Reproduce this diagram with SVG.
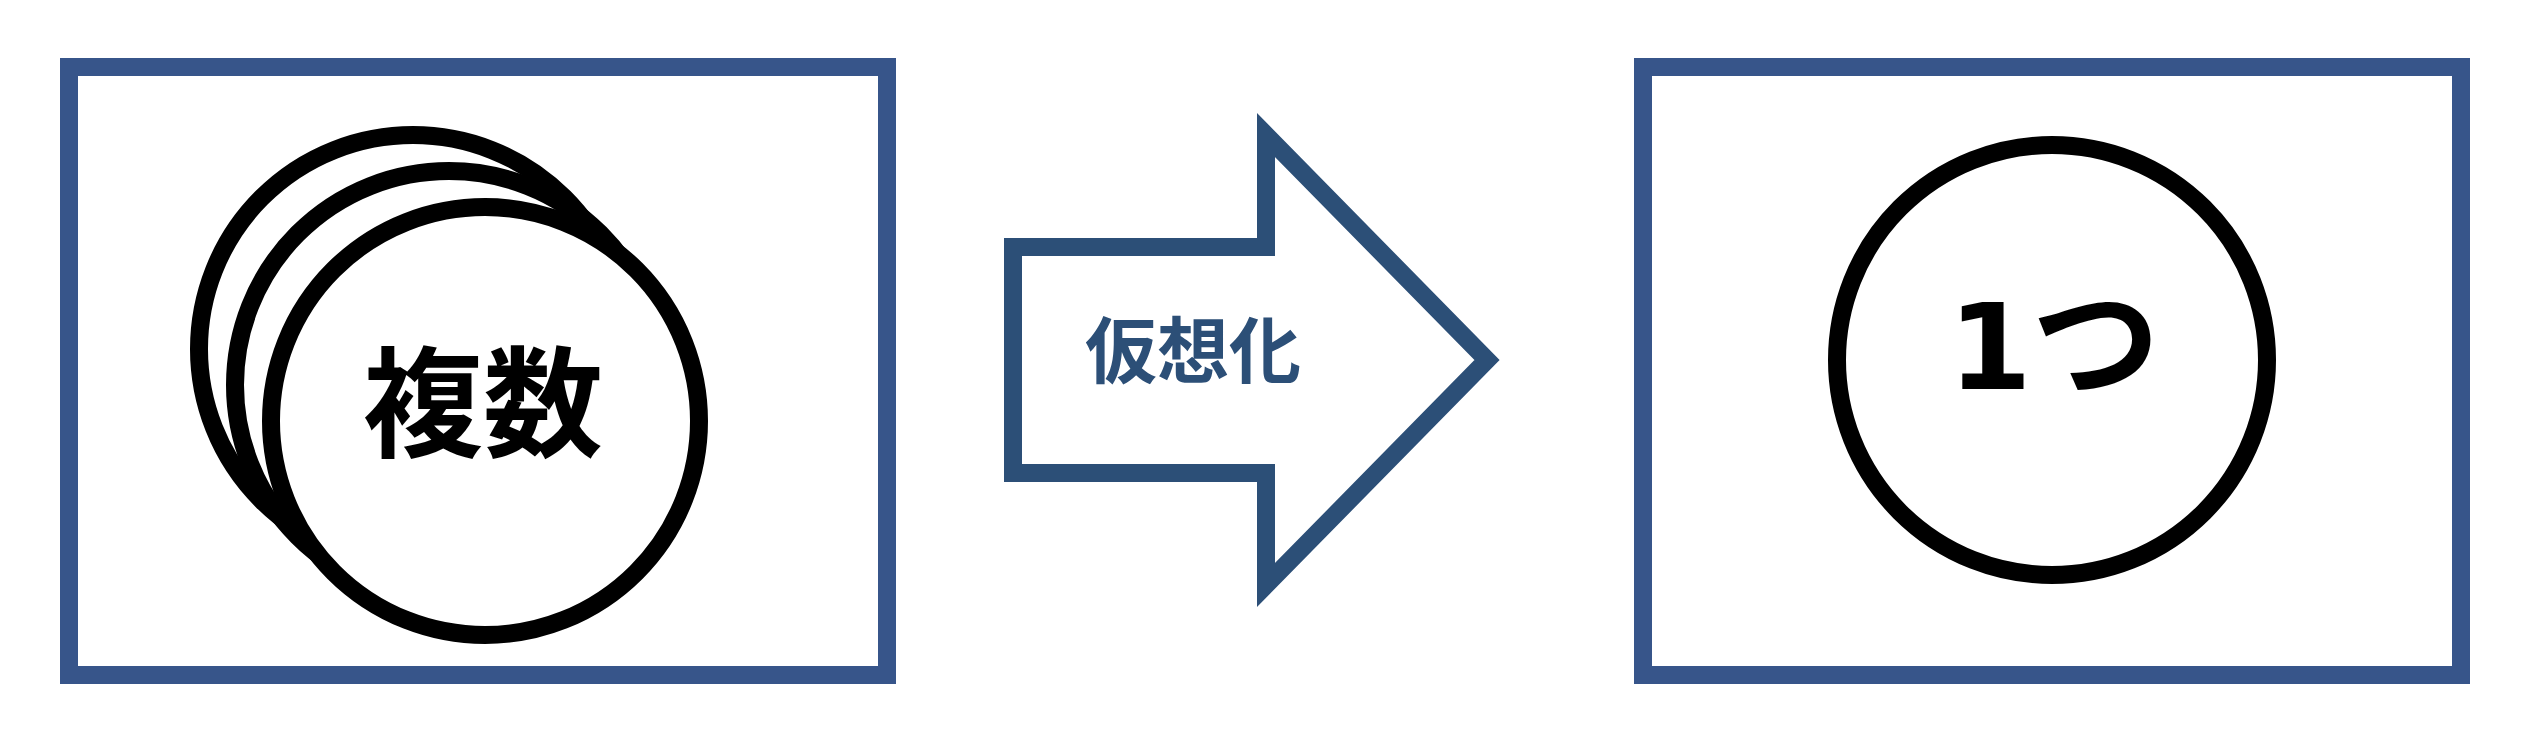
<svg xmlns="http://www.w3.org/2000/svg" width="2544" height="756" viewBox="0 0 2544 756">
  <style>
    .frame { fill: #ffffff; stroke: #37558A; stroke-width: 18; }
    .coin { fill: #ffffff; stroke: #000000; stroke-width: 18; }
    .arrow { fill: #ffffff; stroke: #2C4F77; stroke-width: 18; stroke-linejoin: miter; stroke-miterlimit: 10; }
    .lbl { font-family: "Noto Sans CJK JP", "Noto Sans", sans-serif; font-weight: bold; text-anchor: middle; }
    .lbl2 { font-family: "DejaVu Sans", "Noto Sans CJK JP", sans-serif; font-weight: bold; text-anchor: middle; }
  </style>
  <rect x="0" y="0" width="2544" height="756" fill="#ffffff"/>

  <g id="left-box">
    <rect class="frame" x="69" y="67" width="818" height="608"/>
    <circle class="coin" cx="413" cy="349" r="214"/>
    <circle class="coin" cx="449" cy="385" r="214"/>
    <circle class="coin" cx="485" cy="421" r="214"/>
    <text class="lbl" x="483" y="448" font-size="120" fill="#000000">複数</text>
  </g>

  <g id="arrow-virtualize">
    <path class="arrow" d="M1013,247 H1266 V135 L1487,360 L1266,585 V473 H1013 Z"/>
    <text class="lbl" x="1193" y="377" font-size="72" fill="#2C4F77">仮想化</text>
  </g>

  <g id="right-box">
    <rect class="frame" x="1643" y="67" width="818" height="608"/>
    <circle class="coin" cx="2052" cy="360" r="215"/>
    <text class="lbl2" x="2054" y="389" font-size="120" fill="#000000">1<tspan font-size="128">つ</tspan></text>
  </g>

  <g id="connectors"></g>
</svg>
